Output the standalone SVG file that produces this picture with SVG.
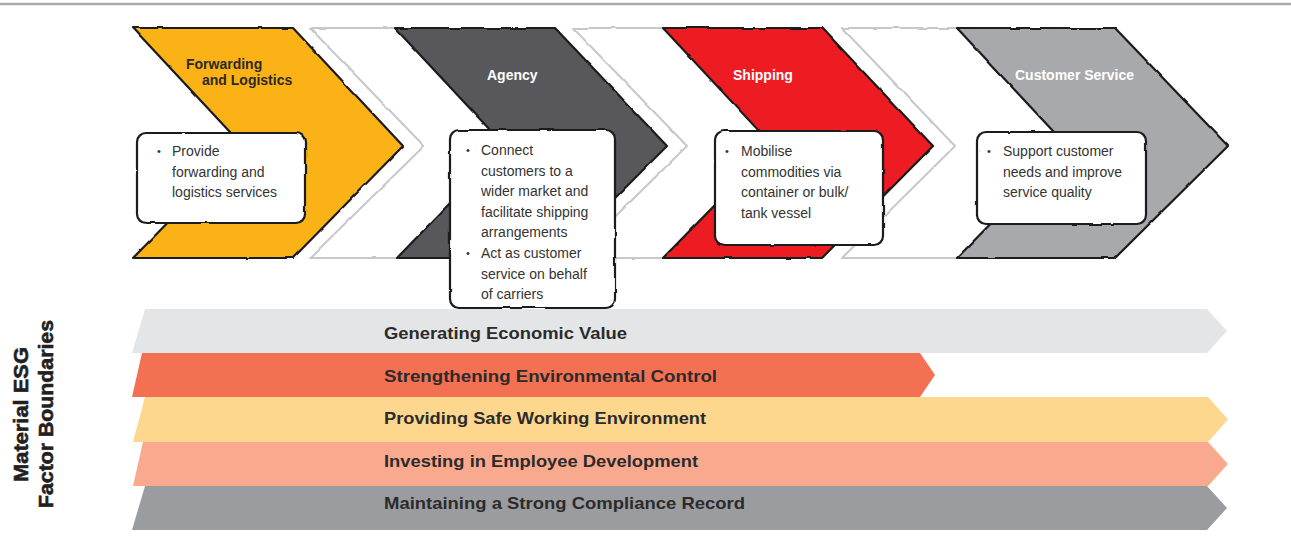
<svg xmlns="http://www.w3.org/2000/svg" width="1291" height="551" viewBox="0 0 1291 551">
  <style>
    .chev { stroke: #1a1a1a; stroke-width: 2.2; stroke-linejoin: round; }
    .ghost { fill: #ffffff; stroke: #c8c8c8; stroke-width: 2; stroke-linejoin: round; }
    .box { fill: #ffffff; stroke: #1a1a1a; stroke-width: 2.2; }
    .title { font-family: "Liberation Sans", Arial, sans-serif; font-weight: bold; font-size: 14px; }
    .body { font-family: "Liberation Sans", Arial, sans-serif; font-size: 14px; fill: #333333; }
    .bul { font-family: "Liberation Sans", Arial, sans-serif; font-size: 11px; fill: #333333; }
    .bar { font-family: "Liberation Sans", Arial, sans-serif; font-weight: bold; font-size: 17px; fill: #2b2b2b; }
    .side { font-family: "Liberation Sans", Arial, sans-serif; font-weight: bold; font-size: 21px; fill: #231f20; stroke: #231f20; stroke-width: 0.6; }
  </style>
  <defs>
    <filter id="sketch" x="-5%" y="-5%" width="110%" height="110%">
      <feTurbulence type="fractalNoise" baseFrequency="0.05" numOctaves="2" seed="3" result="n"/>
      <feDisplacementMap in="SourceGraphic" in2="n" scale="2.5" xChannelSelector="R" yChannelSelector="G"/>
    </filter>
  </defs>
  <rect width="1291" height="551" fill="#ffffff"/>
  <line x1="0" y1="4" x2="1291" y2="4" stroke="#aaaaaa" stroke-width="2.5"/>

  <g id="ghosts" filter="url(#sketch)">
    <path class="ghost" d="M310,28 L470,28 L580,146 L470,258 L310,258 L424,146 Z"/>
    <path class="ghost" d="M573,28 L733,28 L843,146 L733,258 L573,258 L687,146 Z"/>
    <path class="ghost" d="M842,28 L1002,28 L1112,146 L1002,258 L842,258 L955,146 Z"/>
  </g>

  <g id="node-forwarding">
    <path class="chev" fill="#fbb217" filter="url(#sketch)" d="M133,28 L293,28 L403,146 L293,258 L133,258 L243,146 Z"/>
    <text class="title" fill="#2d2a26" x="186" y="69">Forwarding</text>
    <text class="title" fill="#2d2a26" x="202" y="85">and Logistics</text>
  </g>
  <g id="node-agency">
    <path class="chev" fill="#58595b" filter="url(#sketch)" d="M395,28 L555,28 L667,146 L555,258 L397,258 L505,146 Z"/>
    <text class="title" fill="#ffffff" x="487" y="80">Agency</text>
  </g>
  <g id="node-shipping">
    <path class="chev" fill="#ed1c24" filter="url(#sketch)" d="M663,28 L822,28 L933,146 L822,258 L663,258 L773,146 Z"/>
    <text class="title" fill="#ffffff" x="733" y="80">Shipping</text>
  </g>
  <g id="node-customer">
    <path class="chev" fill="#a7a9ac" filter="url(#sketch)" d="M957,28 L1115,28 L1228,146 L1115,258 L957,258 L1067,146 Z"/>
    <text class="title" fill="#ffffff" x="1015" y="80">Customer Service</text>
  </g>

  <g id="box-forwarding">
    <rect class="box" filter="url(#sketch)" x="137" y="133" width="168" height="90" rx="9"/>
    <text class="bul" x="157" y="155">•</text>
    <text class="body" x="172" y="156">Provide</text>
    <text class="body" x="172" y="176.6">forwarding and</text>
    <text class="body" x="172" y="197.2">logistics services</text>
  </g>
  <g id="box-agency">
    <rect class="box" filter="url(#sketch)" x="450" y="130" width="165" height="178" rx="9"/>
    <text class="bul" x="466" y="154">•</text>
    <text class="body" x="481" y="155">Connect</text>
    <text class="body" x="481" y="175.6">customers to a</text>
    <text class="body" x="481" y="196.2">wider market and</text>
    <text class="body" x="481" y="216.8">facilitate shipping</text>
    <text class="body" x="481" y="237.4">arrangements</text>
    <text class="bul" x="466" y="257">•</text>
    <text class="body" x="481" y="258">Act as customer</text>
    <text class="body" x="481" y="278.6">service on behalf</text>
    <text class="body" x="481" y="299.2">of carriers</text>
  </g>
  <g id="box-shipping">
    <rect class="box" filter="url(#sketch)" x="715" y="131" width="168" height="114" rx="9"/>
    <text class="bul" x="725" y="155">•</text>
    <text class="body" x="741" y="156">Mobilise</text>
    <text class="body" x="741" y="176.6">commodities via</text>
    <text class="body" x="741" y="197.2">container or bulk/</text>
    <text class="body" x="741" y="217.8">tank vessel</text>
  </g>
  <g id="box-customer">
    <rect class="box" filter="url(#sketch)" x="977" y="132" width="169" height="92" rx="9"/>
    <text class="bul" x="987" y="155">•</text>
    <text class="body" x="1003" y="156">Support customer</text>
    <text class="body" x="1003" y="176.6">needs and improve</text>
    <text class="body" x="1003" y="197.2">service quality</text>
  </g>

  <g id="bars">
    <g id="bar-economic">
      <path fill="#e4e5e6" d="M145,309 L1207,309 L1227,331 L1207,353 L132,353 Z"/>
      <text class="bar" x="384" y="339" textLength="243" lengthAdjust="spacingAndGlyphs">Generating Economic Value</text>
    </g>
    <g id="bar-environmental">
      <path fill="#f37053" d="M142,353 L920,353 L935,375 L920,397 L132,397 Z"/>
      <text class="bar" x="384" y="381.5" textLength="333" lengthAdjust="spacingAndGlyphs">Strengthening Environmental Control</text>
    </g>
    <g id="bar-safety">
      <path fill="#fed78e" d="M145,397 L1208,397 L1228,419.5 L1208,442 L133,442 Z"/>
      <text class="bar" x="384" y="424" textLength="322" lengthAdjust="spacingAndGlyphs">Providing Safe Working Environment</text>
    </g>
    <g id="bar-employee">
      <path fill="#f9a98e" d="M143,442 L1208,442 L1228,464 L1208,486 L133,486 Z"/>
      <text class="bar" x="384" y="466.5" textLength="314" lengthAdjust="spacingAndGlyphs">Investing in Employee Development</text>
    </g>
    <g id="bar-compliance">
      <path fill="#9b9c9f" d="M145,486 L1207,486 L1227,508 L1207,530 L132,530 Z"/>
      <text class="bar" x="384" y="509" textLength="361" lengthAdjust="spacingAndGlyphs">Maintaining a Strong Compliance Record</text>
    </g>
  </g>

  <g id="side-label">
    <text class="side" text-anchor="middle" transform="translate(28,414.5) rotate(-90)" textLength="135" lengthAdjust="spacingAndGlyphs">Material ESG</text>
    <text class="side" text-anchor="middle" transform="translate(53,414) rotate(-90)" textLength="188" lengthAdjust="spacingAndGlyphs">Factor Boundaries</text>
  </g>
</svg>
